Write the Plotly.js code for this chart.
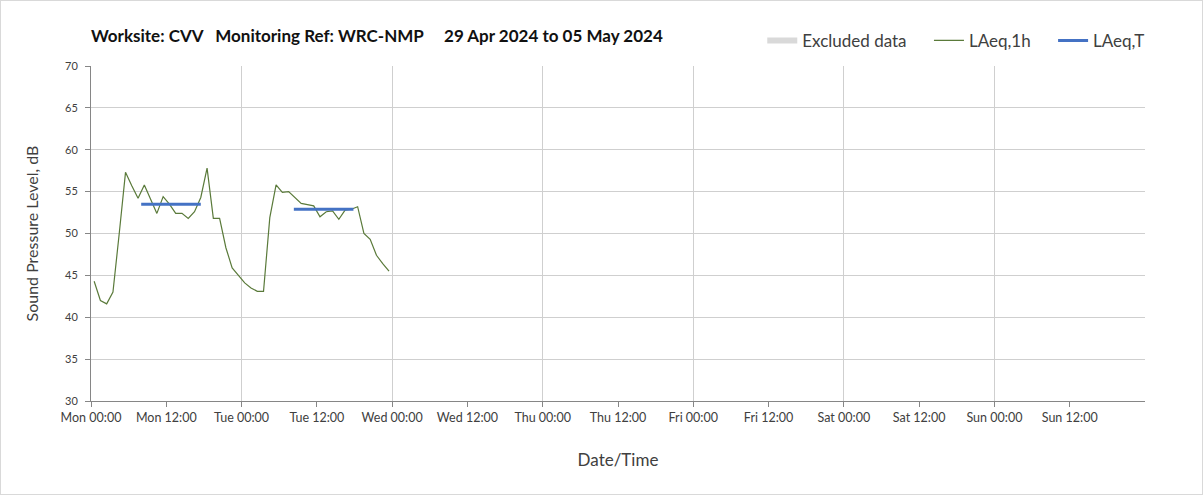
<!DOCTYPE html>
<html>
<head>
<meta charset="utf-8">
<script src="https://cdn.plot.ly/plotly-3.0.1.min.js"></script>
<style>
  html, body { margin: 0; padding: 0; background: #fff; }
  #wrap { width: 1201px; height: 493px; border: 1px solid #d9d9d9; }
  #chart { width: 1201px; height: 493px; }
</style>
</head>
<body>
<div id="wrap"><div id="chart"></div></div>
<script>
// LAeq,1h hourly values (timestamps at mid-hour)
const times1h = [
  '2024-04-29 00:30','2024-04-29 01:30','2024-04-29 02:30','2024-04-29 03:30','2024-04-29 04:30','2024-04-29 05:30',
  '2024-04-29 06:30','2024-04-29 07:30','2024-04-29 08:30','2024-04-29 09:30','2024-04-29 10:30','2024-04-29 11:30',
  '2024-04-29 12:30','2024-04-29 13:30','2024-04-29 14:30','2024-04-29 15:30','2024-04-29 16:30','2024-04-29 17:30',
  '2024-04-29 18:30','2024-04-29 19:30','2024-04-29 20:30','2024-04-29 21:30','2024-04-29 22:30','2024-04-29 23:30',
  '2024-04-30 00:30','2024-04-30 01:30','2024-04-30 02:30','2024-04-30 03:30','2024-04-30 04:30','2024-04-30 05:30',
  '2024-04-30 06:30','2024-04-30 07:30','2024-04-30 08:30','2024-04-30 09:30','2024-04-30 10:30','2024-04-30 11:30',
  '2024-04-30 12:30','2024-04-30 13:30','2024-04-30 14:30','2024-04-30 15:30','2024-04-30 16:30','2024-04-30 17:30',
  '2024-04-30 18:30','2024-04-30 19:30','2024-04-30 20:30','2024-04-30 21:30','2024-04-30 22:30','2024-04-30 23:30'
];
const laeq1h = [
  44.3, 42.0, 41.6, 43.0, 50.0, 57.3,
  55.7, 54.2, 55.8, 54.1, 52.4, 54.4,
  53.5, 52.4, 52.4, 51.8, 52.6, 54.3,
  57.8, 51.8, 51.8, 48.3, 45.9, 45.0,
  44.1, 43.5, 43.1, 43.1, 51.9, 55.8,
  54.9, 55.0, 54.3, 53.6, 53.45, 53.3,
  52.0, 52.6, 52.7, 51.7, 52.8, 52.9,
  53.2, 50.0, 49.3, 47.4, 46.4, 45.5
];
// LAeq,T period values (start, end, gap)
const timesT = ['2024-04-29 08:00','2024-04-29 17:30', null, '2024-04-30 08:20','2024-04-30 17:50'];
const laeqT  = [53.5, 53.5, null, 52.9, 52.9];

const tickVals = [
  '2024-04-29 00:00','2024-04-29 12:00','2024-04-30 00:00','2024-04-30 12:00',
  '2024-05-01 00:00','2024-05-01 12:00','2024-05-02 00:00','2024-05-02 12:00',
  '2024-05-03 00:00','2024-05-03 12:00','2024-05-04 00:00','2024-05-04 12:00',
  '2024-05-05 00:00','2024-05-05 12:00'
];
const tickText = [
  'Mon 00:00','Mon 12:00','Tue 00:00','Tue 12:00','Wed 00:00','Wed 12:00','Thu 00:00','Thu 12:00',
  'Fri 00:00','Fri 12:00','Sat 00:00','Sat 12:00','Sun 00:00','Sun 12:00'
];
const dayGrid = ['2024-04-30 00:00','2024-05-01 00:00','2024-05-02 00:00','2024-05-03 00:00',
  '2024-05-04 00:00','2024-05-05 00:00','2024-05-06 00:00'];
const yTicks = [30, 35, 40, 45, 50, 55, 60, 65, 70];
const seriesNames = ['Excluded data', 'LAeq,1h', 'LAeq,T'];

const FONT = 'Lato, "Open Sans", sans-serif';
const PAD = '\u00A0\u00A0\u00A0\u00A0';

const traces = [
  { type: 'scatter', mode: 'none', x: [null], y: [null], name: seriesNames[0] + PAD,
    fill: 'toself', fillcolor: '#d9d9d9', hoverinfo: 'skip' },
  { type: 'scatter', mode: 'lines', x: times1h, y: laeq1h, name: seriesNames[1] + PAD,
    line: { color: '#5a7a3a', width: 1.2 } },
  { type: 'scatter', mode: 'lines', x: timesT, y: laeqT, name: seriesNames[2],
    line: { color: '#4472c4', width: 3 }, connectgaps: false },
  { type: 'scatter', mode: 'lines', x: [null], y: [null], xaxis: 'x2', showlegend: false, hoverinfo: 'skip' }
];

const layout = {
  width: 1201, height: 493,
  margin: { l: 90, r: 57, t: 65, b: 93 },
  paper_bgcolor: '#ffffff', plot_bgcolor: '#ffffff',
  font: { family: FONT, color: '#404040', size: 11 },
  title: {
    text: '<b>Worksite: CVV\u00A0\u00A0\u00A0Monitoring Ref: WRC-NMP\u00A0\u00A0\u00A0\u00A0\u00A029 Apr 2024 to 05 May 2024</b>',
    x: 0, xref: 'paper', xanchor: 'left', y: 0.929, yref: 'container', yanchor: 'middle',
    font: { family: FONT, size: 17, color: '#111111' }, pad: { l: 0 }
  },
  showlegend: true,
  legend: {
    orientation: 'h', x: 1.005, xanchor: 'right', y: 1.075, yanchor: 'middle',
    font: { family: FONT, size: 17, color: '#404040' },
    bgcolor: 'rgba(0,0,0,0)', traceorder: 'normal'
  },
  xaxis: {
    type: 'date',
    range: ['2024-04-29 00:00', '2024-05-06 00:00'],
    tickmode: 'array', tickvals: tickVals, ticktext: tickText,
    showgrid: false, showline: true, linecolor: '#868686', linewidth: 1,
    ticks: 'outside', ticklen: 5, tickcolor: '#868686',
    tickfont: { family: FONT, size: 12.5, color: '#404040' },
    zeroline: false,
    title: { text: 'Date/Time', font: { family: FONT, size: 17, color: '#404040' }, standoff: 30 }
  },
  xaxis2: {
    type: 'date', overlaying: 'x', matches: 'x', side: 'bottom',
    range: ['2024-04-29 00:00', '2024-05-06 00:00'],
    tickmode: 'array', tickvals: dayGrid, showticklabels: false, ticks: '',
    showgrid: true, gridcolor: '#cfcfcf', gridwidth: 1, showline: false, zeroline: false
  },
  yaxis: {
    range: [30, 70], tickmode: 'array', tickvals: yTicks,
    showgrid: true, gridcolor: '#cfcfcf', gridwidth: 1,
    showline: true, linecolor: '#868686', linewidth: 1,
    ticks: 'outside', ticklen: 5, tickcolor: '#868686',
    tickfont: { family: FONT, size: 11, color: '#404040' },
    ticklabelstandoff: 5,
    zeroline: false,
    title: { text: 'Sound Pressure Level, dB', font: { family: FONT, size: 16, color: '#404040' }, standoff: 22 }
  }
};

Plotly.newPlot('chart', traces, layout, { staticPlot: true, displayModeBar: false });
</script>
</body>
</html>
